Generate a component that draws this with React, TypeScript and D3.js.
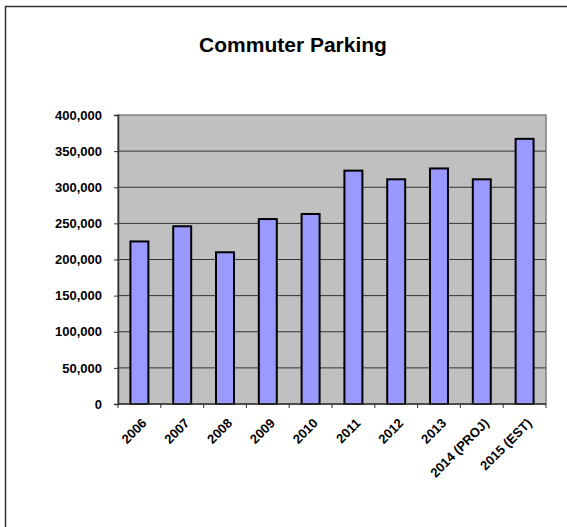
import React, { useEffect, useRef } from "react";
import * as d3 from "d3";

const categories = ["2006", "2007", "2008", "2009", "2010", "2011", "2012", "2013", "2014 (PROJ)", "2015 (EST)"];
const values = [225000, 246000, 210000, 256000, 263000, 323000, 311000, 326000, 311000, 367000];
const yTicks = [0, 50000, 100000, 150000, 200000, 250000, 300000, 350000, 400000];
const title = "Commuter Parking";

export default function App() {
  const ref = useRef<SVGSVGElement>(null);
  useEffect(() => {
    const W = 567, H = 527;
    const svg = d3.select(ref.current);
    svg.selectAll("*").remove();
    const left = 118, right = 546, top = 115, bottom = 404;
    const x = d3.scaleBand().domain(categories).range([left, right]).paddingInner(0.58).paddingOuter(0.29);
    const y = d3.scaleLinear().domain([0, 400000]).range([bottom, top]);
    const font = "'Liberation Sans', Arial, sans-serif";

    svg.append("rect").attr("x", 0).attr("y", 0).attr("width", W).attr("height", H).attr("fill", "#fff");
    svg.append("rect").attr("x", 5.5).attr("y", 6.5).attr("width", W + 10).attr("height", H + 10)
      .attr("fill", "none").attr("stroke", "#333").attr("stroke-width", 1.5);

    svg.append("text").attr("x", 293).attr("y", 52).attr("text-anchor", "middle")
      .attr("font-family", font).attr("font-weight", "bold").attr("font-size", 21).text(title);

    // plot area
    svg.append("rect").attr("x", left).attr("y", top).attr("width", right - left).attr("height", bottom - top)
      .attr("fill", "#C0C0C0").attr("stroke", "#808080").attr("stroke-width", 1.5);

    // gridlines
    svg.append("g").selectAll("line").data(yTicks.filter(t => t > 0 && t < 400000)).join("line")
      .attr("x1", left).attr("x2", right).attr("y1", d => y(d)).attr("y2", d => y(d))
      .attr("stroke", "#333").attr("stroke-width", 1);

    // y axis
    const ya = svg.append("g").attr("transform", `translate(${left},0)`)
      .call(d3.axisLeft(y).tickValues(yTicks).tickSize(4).tickFormat(d3.format(",")));
    ya.select(".domain").attr("stroke", "#333").attr("stroke-width", 1.5);
    ya.selectAll(".tick line").attr("stroke", "#333");
    ya.selectAll(".tick text").attr("font-family", font).attr("font-weight", "bold").attr("font-size", 13)
      .attr("fill", "#000").attr("x", -16);

    // bars
    svg.append("g").selectAll("rect").data(values).join("rect")
      .attr("x", (d, i) => x(categories[i])!)
      .attr("width", x.bandwidth())
      .attr("y", d => y(d))
      .attr("height", d => bottom - y(d))
      .attr("fill", "#9999FF").attr("stroke", "#000").attr("stroke-width", 2);

    // x axis
    const step = x.step();
    const g = svg.append("g");
    g.append("line").attr("x1", left).attr("x2", right).attr("y1", bottom).attr("y2", bottom)
      .attr("stroke", "#333").attr("stroke-width", 1.5);
    g.selectAll("line.tk").data(d3.range(categories.length + 1)).join("line").attr("class", "tk")
      .attr("x1", i => left + i * step).attr("x2", i => left + i * step)
      .attr("y1", bottom).attr("y2", bottom + 4).attr("stroke", "#333");
    g.selectAll("text").data(categories).join("text")
      .attr("transform", d => `translate(${x(d)! + x.bandwidth() / 2 + 8},${bottom + 20}) rotate(-45)`)
      .attr("text-anchor", "end").attr("font-family", font).attr("font-weight", "bold").attr("font-size", 13)
      .attr("fill", "#000").text(d => d);
  }, []);
  return <svg ref={ref} width={567} height={527} style={{ position: "absolute", left: 0, top: 0 }} />;
}
